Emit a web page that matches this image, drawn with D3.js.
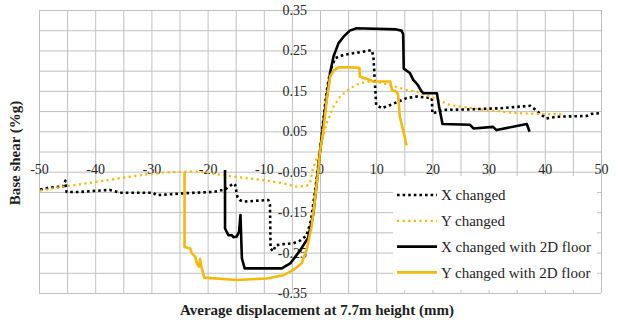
<!DOCTYPE html>
<html>
<head>
<meta charset="utf-8">
<script src="https://cdn.jsdelivr.net/npm/d3@7"></script>
<style>
  body { margin: 0; background: #fff; }
  svg { display: block; }
</style>
</head>
<body>
<div id="chart"></div>
<script>
// displacement (mm), base shear (%g)
var xChanged = [[-49.8,-0.094],[-48,-0.089],[-45.7,-0.087],[-45.3,-0.072],[-45.1,-0.1],[-42.7,-0.1],[-37.4,-0.095],[-35.6,-0.102],[-29.7,-0.102],[-29.1,-0.108],[-23.7,-0.103],[-19,-0.1],[-17.2,-0.095],[-16.6,-0.091],[-15.4,-0.079],[-15.1,-0.083],[-14.7,-0.112],[-14.3,-0.12],[-13.6,-0.124],[-9.2,-0.12],[-8.9,-0.132],[-8.8,-0.24],[-8.3,-0.247],[-7.9,-0.232],[-6.5,-0.229],[-4.75,-0.227],[-3.6,-0.221],[-2.4,-0.208],[-1.6,-0.17],[-0.8,-0.09],[0,0],[0.6,0.08],[1.2,0.15],[1.7,0.19],[2.1,0.21],[2.7,0.231],[4.2,0.239],[5.9,0.243],[7.7,0.247],[9.2,0.251],[9.5,0.235],[10.0,0.115],[11,0.107],[12.5,0.115],[14.2,0.125],[15.4,0.132],[17.2,0.136],[19.9,0.132],[20.0,0.094],[21.9,0.103],[26.1,0.104],[32,0.107],[37.4,0.113],[38,0.107],[39.1,0.094],[40.3,0.082],[42.1,0.086],[47.5,0.088],[48.3,0.093],[50,0.095]];
var yChanged = [[-49.8,-0.097],[-45.7,-0.087],[-39.7,-0.075],[-33.8,-0.062],[-27.9,-0.052],[-23.7,-0.05],[-21.4,-0.05],[-15.4,-0.062],[-9.5,-0.072],[-6.5,-0.079],[-4.2,-0.087],[-2.4,-0.085],[-1.8,-0.079],[-1.3,-0.045],[-0.7,-0.02],[0,0],[0.3,0.02],[1.2,0.07],[2.4,0.111],[3.6,0.136],[5.3,0.156],[7.1,0.169],[8.9,0.173],[10.7,0.17],[13,0.162],[15.4,0.152],[17.2,0.148],[20.2,0.132],[23.1,0.115],[29.1,0.103],[35,0.095],[39.1,0.093],[43,0.092]];
var xChanged2D = [[-16.9,-0.046],[-16.9,-0.19],[-16.7,-0.196],[-16.3,-0.207],[-15.7,-0.207],[-15.4,-0.212],[-14.8,-0.21],[-14.4,-0.198],[-14.15,-0.157],[-13.9,-0.264],[-13.4,-0.289],[-6.8,-0.289],[-5.3,-0.277],[-3.6,-0.246],[-2.1,-0.213],[-1.2,-0.155],[-0.6,-0.08],[0,0],[0.9,0.103],[1.8,0.194],[2.4,0.235],[3.3,0.268],[4.2,0.284],[5.3,0.299],[6.5,0.305],[13.6,0.302],[14.5,0.299],[14.8,0.29],[14.9,0.205],[16.0,0.194],[16.6,0.177],[17.4,0.165],[18.0,0.15],[18.4,0.144],[20.8,0.144],[21.2,0.11],[21.8,0.068],[26.7,0.066],[27.3,0.057],[30.8,0.061],[31.4,0.053],[36.8,0.068],[37.3,0.049]];
var yChanged2D = [[-24.1,-0.05],[-24.1,-0.236],[-23.1,-0.24],[-22.8,-0.252],[-22.2,-0.26],[-21.9,-0.277],[-21.5,-0.285],[-21.35,-0.266],[-21.1,-0.285],[-20.6,-0.312],[-14.8,-0.318],[-9.5,-0.314],[-6.5,-0.306],[-4.75,-0.293],[-3.3,-0.277],[-2.4,-0.244],[-1.5,-0.186],[-0.9,-0.12],[-0.3,-0.046],[0,0],[0.6,0.053],[1.2,0.127],[1.8,0.185],[2.4,0.2],[3.3,0.208],[5.3,0.208],[7.0,0.207],[7.1,0.185],[8.0,0.181],[8.9,0.177],[9.5,0.173],[12.5,0.173],[12.8,0.152],[13.6,0.148],[13.9,0.14],[14.2,0.086],[14.8,0.053],[15.4,0.015]];

var xTicks = [-50, -40, -30, -20, -10, 0, 10, 20, 30, 40, 50];
var yTicks = [-0.35, -0.25, -0.15, -0.05, 0.05, 0.15, 0.25, 0.35];
var seriesNames = ["X changed", "Y changed", "X changed with 2D floor", "Y changed with 2D floor"];

var width = 617, height = 324;
var font = "'Liberation Serif', 'Times New Roman', serif";
var gold = "#f7b80c";

var x = d3.scaleLinear().domain([-50, 50]).range([39, 601]);
var y = d3.scaleLinear().domain([-0.35, 0.35]).range([293, 10]);

var svg = d3.select("#chart").append("svg")
    .attr("width", width)
    .attr("height", height);

// gridlines every 5 mm / 0.05 g
svg.append("g")
    .attr("transform", "translate(0," + y(-0.35) + ")")
    .call(d3.axisBottom(x).tickValues(d3.range(-50, 51, 5)).tickSize(-(y(-0.35) - y(0.35))).tickFormat(""))
    .call(function (g) { g.select(".domain").remove(); })
    .selectAll("line").attr("stroke", "#c0c0c0");

svg.append("g")
    .attr("transform", "translate(" + x(-50) + ",0)")
    .call(d3.axisLeft(y).tickValues(d3.range(-7, 8).map(function (d) { return d * 0.05; })).tickSize(-(x(50) - x(-50))).tickFormat(""))
    .call(function (g) { g.select(".domain").remove(); })
    .selectAll("line").attr("stroke", "#c0c0c0");

// tick labels along the zero axes
var xAxis = svg.append("g")
    .attr("transform", "translate(0," + y(0) + ")")
    .call(d3.axisBottom(x).tickValues(xTicks).tickSize(0).tickPadding(13)
        .tickFormat(function (d) { return d.toFixed(0); }));
xAxis.select(".domain").remove();
xAxis.selectAll("text").attr("font-family", font).attr("font-size", 14).attr("fill", "#262626");

var yAxis = svg.append("g")
    .attr("transform", "translate(" + x(0) + ",0)")
    .call(d3.axisLeft(y).tickValues(yTicks).tickSize(0).tickPadding(13)
        .tickFormat(function (d) { return d.toFixed(2); }));
yAxis.select(".domain").remove();
yAxis.selectAll("text").attr("font-family", font).attr("font-size", 14).attr("fill", "#262626");

var line = d3.line()
    .x(function (d) { return x(d[0]); })
    .y(function (d) { return y(d[1]); });

var styles = [
    { data: xChanged, color: "#000", width: 2.6, dash: "2.6,3" },
    { data: yChanged, color: gold, width: 2.2, dash: "2.2,3.4" },
    { data: xChanged2D, color: "#000", width: 2.6, dash: null },
    { data: yChanged2D, color: gold, width: 2.6, dash: null }
];

styles.forEach(function (s) {
    svg.append("path")
        .datum(s.data)
        .attr("fill", "none")
        .attr("stroke", s.color)
        .attr("stroke-width", s.width)
        .attr("stroke-dasharray", s.dash)
        .attr("stroke-linejoin", "round")
        .attr("d", line);
});

// legend
var legend = svg.append("g");
legend.append("rect")
    .attr("x", 393).attr("y", 176)
    .attr("width", 204).attr("height", 114)
    .attr("fill", "#fff");

styles.forEach(function (s, i) {
    var ly = 195 + i * 25.8;
    legend.append("line")
        .attr("x1", 397).attr("x2", 437)
        .attr("y1", ly).attr("y2", ly)
        .attr("stroke", s.color)
        .attr("stroke-width", s.width)
        .attr("stroke-dasharray", s.dash);
    legend.append("text")
        .attr("x", 441).attr("y", ly)
        .attr("dy", "0.35em")
        .attr("font-family", font)
        .attr("font-size", 15)
        .attr("fill", "#1e1e1e")
        .text(seriesNames[i]);
});

// axis titles
svg.append("text")
    .attr("x", 317).attr("y", 315)
    .attr("text-anchor", "middle")
    .attr("font-family", font)
    .attr("font-size", 15)
    .attr("font-weight", "bold")
    .attr("fill", "#1e1e1e")
    .text("Average displacement at 7.7m height (mm)");

svg.append("text")
    .attr("transform", "translate(20,153) rotate(-90)")
    .attr("text-anchor", "middle")
    .attr("font-family", font)
    .attr("font-size", 15)
    .attr("font-weight", "bold")
    .attr("fill", "#1e1e1e")
    .text("Base shear (%g)");
</script>
</body>
</html>
